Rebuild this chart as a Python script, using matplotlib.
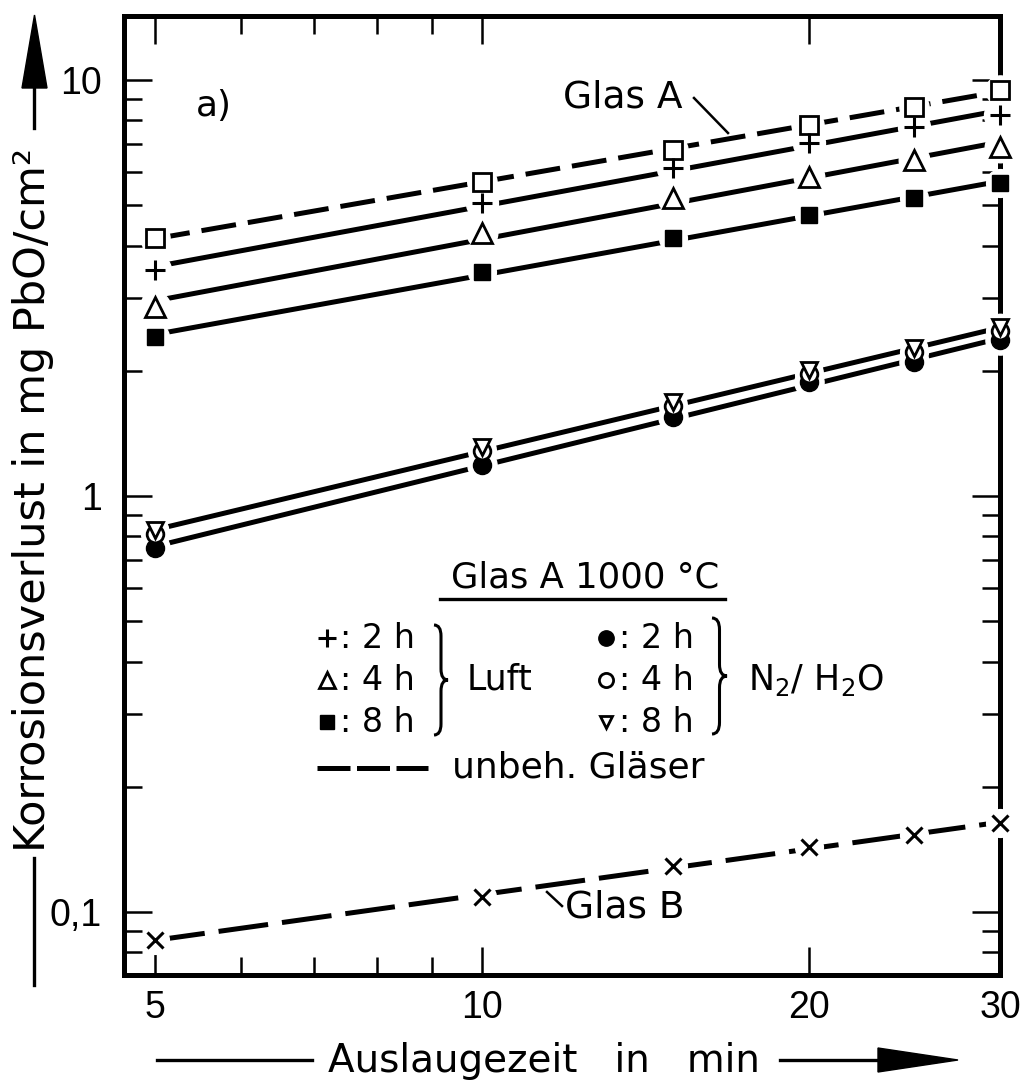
import numpy as np
import matplotlib
matplotlib.use("Agg")
import matplotlib.pyplot as plt
from matplotlib.lines import Line2D
from matplotlib.patches import Polygon, PathPatch
from matplotlib.path import Path
from matplotlib.ticker import FixedLocator, FixedFormatter, NullFormatter

plt.rcParams['font.family'] = ['DejaVu Sans']
plt.rcParams['mathtext.fontset'] = 'dejavusans'

# ---------------- data ----------------
time_min = [5, 10, 15, 20, 25, 30]
glas_a = [4.17, 5.69, 6.79, 7.79, 8.61, 9.46]          # unbehandelt, squares
luft_2h = [3.49, 5.06, 6.14, 7.06, 7.71, 8.24]          # +
luft_4h = [2.85, 4.29, 5.20, 5.84, 6.43, 6.90]          # triangle up
luft_8h = [2.41, 3.45, 4.17, 4.73, 5.20, 5.65]          # filled square
n2_2h = [0.750, 1.187, 1.549, 1.879, 2.100, 2.371]      # filled circle
n2_4h = [0.810, 1.283, 1.646, 1.965, 2.220, 2.493]      # open circle
n2_8h = [0.829, 1.311, 1.683, 2.009, 2.269, 2.548]      # triangle down
glas_b = [0.0857, 0.109, 0.129, 0.143, 0.153, 0.164]    # unbehandelt, x

x_major = [5, 10, 20, 30]
x_major_labels = ["5", "10", "20", "30"]
x_minor = [6, 7, 8, 9]
y_major = [0.1, 1, 10]
y_major_labels = ["0,1", "1", "10"]
y_minor = [0.08, 0.09, 0.2, 0.3, 0.4, 0.5, 0.6, 0.7, 0.8, 0.9,
           2, 3, 4, 5, 6, 7, 8, 9]

# ---------------- figure ----------------
W, H = 1021, 1084
fig = plt.figure(figsize=(W / 100, H / 100), dpi=100)
L, R, T, B = 124, 1000, 16, 975
ax = fig.add_axes([L / W, 1 - B / H, (R - L) / W, (B - T) / H])
ax.set_xscale('log')
ax.set_yscale('log')
ax.set_xlim(4.68, 30)
ax.set_ylim(0.0706, 14.25)

for sp in ax.spines.values():
    sp.set_linewidth(3.6)

ax.xaxis.set_major_locator(FixedLocator(x_major))
ax.xaxis.set_major_formatter(FixedFormatter(x_major_labels))
ax.xaxis.set_minor_locator(FixedLocator(x_minor))
ax.xaxis.set_minor_formatter(NullFormatter())
ax.yaxis.set_major_locator(FixedLocator(y_major))
ax.yaxis.set_major_formatter(FixedFormatter(y_major_labels))
ax.yaxis.set_minor_locator(FixedLocator(y_minor))
ax.yaxis.set_minor_formatter(NullFormatter())

ax.tick_params(which='both', direction='in', top=True, right=True,
               width=1.8, colors='black', labelsize=27,
               labelfontfamily='Liberation Sans')
ax.tick_params(which='major', length=20)
ax.tick_params(which='minor', length=13)
ax.tick_params(axis='x', which='major', pad=11)
ax.tick_params(axis='y', which='major', pad=16)


def fit_line(xs, ys):
    lx = np.log10(np.asarray(xs, float))
    ly = np.log10(np.asarray(ys, float))
    p = np.polyfit(lx, ly, 1)
    xx = np.array([lx.min(), lx.max()])
    return 10 ** xx, 10 ** np.polyval(p, xx)


LW = 3.6
# fitted lines
xx, yy = fit_line(time_min, glas_a)
ax.plot(xx, yy, color='black', lw=LW, dashes=(7, 2.4), zorder=2)
for ser in (luft_2h, luft_4h, luft_8h, n2_2h):
    xx, yy = fit_line(time_min, ser)
    ax.plot(xx, yy, color='black', lw=LW, zorder=2)
xx, yy = fit_line(time_min + time_min, n2_4h + n2_8h)
ax.plot(xx, yy, color='black', lw=LW, zorder=2)
xx, yy = fit_line(time_min, glas_b)
ax.plot(xx, yy, color='black', lw=LW, dashes=(10, 2.8), zorder=2)

# marker styles
st_a = dict(marker='s', ms=13, mfc='white', mec='black', mew=2.0)
st_l2 = dict(marker='+', ms=15, mec='black', mew=2.2)
st_l4 = dict(marker='^', ms=14, mfc='white', mec='black', mew=2.0)
st_l8 = dict(marker='s', ms=12, mfc='black', mec='black', mew=1.0)
st_n2 = dict(marker='o', ms=13, mfc='black', mec='black', mew=1.0)
st_n4 = dict(marker='o', ms=12, mfc='white', mec='black', mew=2.0)
st_n8 = dict(marker='v', ms=11, mfc='white', mec='black', mew=2.0)
st_b = dict(marker='x', ms=12, mec='black', mew=2.2)

series_style = [(glas_a, st_a), (luft_2h, st_l2), (luft_4h, st_l4),
                (luft_8h, st_l8), (n2_2h, st_n2), (n2_4h, st_n4),
                (n2_8h, st_n8), (glas_b, st_b)]
# white halos that open gaps in the lines around each point
for ser, st in series_style:
    ax.plot(time_min, ser, linestyle='none', marker='o', ms=st['ms'] + 8,
            mfc='white', mec='white', zorder=4, clip_on=False)
for ser, st in series_style:
    ax.plot(time_min, ser, linestyle='none', zorder=5, clip_on=False, **st)


# ---------------- annotations (figure pixel coordinates) ----------------
def fx(x):
    return x / W


def fy(y):
    return 1 - y / H


def fline(xs, ys, lw=2.2, **kw):
    fig.add_artist(Line2D([fx(v) for v in xs], [fy(v) for v in ys],
                          transform=fig.transFigure, color='black', lw=lw, **kw))


def fmark(x, y, st, scale=0.85):
    s = dict(st)
    s['ms'] = st['ms'] * scale
    fig.add_artist(Line2D([fx(x)], [fy(y)], transform=fig.transFigure,
                          linestyle='none', **s))


def ftext(x, y, s, size=24, ha='left', va='baseline', **kw):
    fig.text(fx(x), fy(y), s, fontsize=size, ha=ha, va=va, color='black', **kw)


def brace(x0, x1, y0, y1, lw=2.2):
    w = x1 - x0
    h = y1 - y0
    pts = [(0, 0), (0.5, 0), (0.5, 0.1), (0.5, 0.4), (0.5, 0.5), (1, 0.5),
           (0.5, 0.5), (0.5, 0.6), (0.5, 0.9), (0.5, 1), (0, 1)]
    codes = [Path.MOVETO, Path.CURVE3, Path.CURVE3, Path.LINETO, Path.CURVE3,
             Path.CURVE3, Path.CURVE3, Path.CURVE3, Path.LINETO, Path.CURVE3,
             Path.CURVE3]
    verts = [(fx(x0 + u * w), fy(y0 + v * h)) for u, v in pts]
    fig.add_artist(PathPatch(Path(verts, codes), transform=fig.transFigure,
                             fill=False, lw=lw, edgecolor='black'))


# "a)"
ftext(196, 116, "a)", size=26)
# Glas A / Glas B labels with leaders
ftext(563, 108, "Glas A", size=27)
fline([694, 728], [98, 133], lw=1.8)
ftext(565, 918, "Glas B", size=27)
fline([547, 562], [892, 906], lw=1.8)

# legend block
ftext(585, 588, "Glas A 1000 °C", size=25.5, ha='center')
fline([440, 725], [599, 599], lw=2.4)
for yb, st, txt in [(648, st_l2, ": 2 h"), (690, st_l4, ": 4 h"), (732, st_l8, ": 8 h")]:
    fmark(327, yb - 10, st)
    ftext(340, yb, txt)
brace(434, 448, 625, 735)
ftext(467, 690, "Luft", size=25)
for yb, st, txt in [(648, st_n2, ": 2 h"), (690, st_n4, ": 4 h"), (732, st_n8, ": 8 h")]:
    fmark(606, yb - 10, st)
    ftext(619, yb, txt)
brace(712, 727, 618, 734)
ftext(748, 690, r"N$_2$/ H$_2$O", size=25)
fline([317, 428], [768, 768], lw=3.6, dashes=(6.6, 1.3))
ftext(452, 777, "unbeh. Gläser", size=26)

# y axis label with arrow
fig.text(fx(33), fy(852), "Korrosionsverlust in mg PbO/cm²", fontsize=31,
         rotation=90, rotation_mode='anchor', ha='left', va='center')
fline([34, 34], [858, 985], lw=2.4)
fline([34, 34], [128, 86], lw=2.4)
fig.add_artist(Polygon([(fx(22), fy(88)), (fx(47), fy(88)), (fx(34.5), fy(15))],
                       closed=True, transform=fig.transFigure,
                       facecolor='black', edgecolor='black', lw=1))

# x axis label with arrow
ftext(328, 1072, "Auslaugezeit   in   min", size=28)
fline([157, 312], [1060, 1060], lw=2.4)
fline([780, 882], [1060, 1060], lw=2.4)
fig.add_artist(Polygon([(fx(878), fy(1048)), (fx(878), fy(1072)), (fx(958), fy(1060))],
                       closed=True, transform=fig.transFigure,
                       facecolor='black', edgecolor='black', lw=1))

fig.savefig("out.png", dpi=100, facecolor='white')
